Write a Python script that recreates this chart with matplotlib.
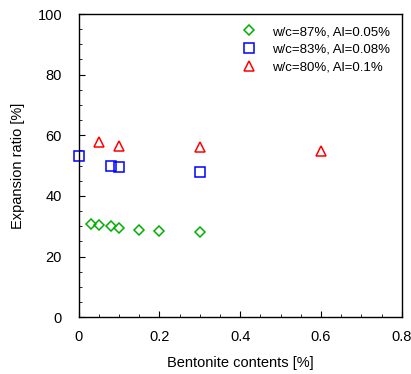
import matplotlib
matplotlib.use('Agg')
import matplotlib.pyplot as plt
from matplotlib.ticker import MultipleLocator

plt.rcParams['font.family'] = ['Liberation Sans', 'DejaVu Sans']

# series: bentonite content [%] vs expansion ratio [%]
x_87 = [0.03, 0.05, 0.08, 0.1, 0.15, 0.2, 0.3]
y_87 = [30.8, 30.5, 30.2, 29.3, 28.8, 28.4, 28.0]
x_83 = [0.0, 0.08, 0.1, 0.3]
y_83 = [53.3, 49.9, 49.5, 47.8]
x_80 = [0.05, 0.1, 0.3, 0.6]
y_80 = [57.8, 56.6, 56.0, 54.7]
labels = ['w/c=87%, Al=0.05%', 'w/c=83%, Al=0.08%', 'w/c=80%, Al=0.1%']

fig = plt.figure(figsize=(4.11, 3.74), dpi=100)
ax = fig.add_axes([78.7 / 411, 1 - 317.3 / 374, 323 / 411, 303.3 / 374])

ax.plot(x_87, y_87, 'D', markersize=5.5, mfc='none', mec='#00b000', mew=1.1,
        label=labels[0], clip_on=False)
ax.plot(x_83, y_83, 's', markersize=7, mfc='none', mec='#0000ff', mew=1.1,
        label=labels[1], clip_on=False)
ax.plot(x_80, y_80, '^', markersize=7, mfc='none', mec='#ff0000', mew=1.1,
        label=labels[2], clip_on=False)

ax.set_xlim(0, 0.8)
ax.set_ylim(0, 100)
ax.xaxis.set_major_locator(MultipleLocator(0.2))
ax.xaxis.set_minor_locator(MultipleLocator(0.05))
ax.yaxis.set_major_locator(MultipleLocator(20))
ax.yaxis.set_minor_locator(MultipleLocator(5))
ax.xaxis.set_major_formatter(plt.FuncFormatter(lambda v, p: '0' if v == 0 else f'{v:g}'))
ax.tick_params(which='both', direction='in', top=False, right=False, labelsize=10.5)
ax.tick_params(axis='x', which='major', pad=9)
ax.tick_params(axis='y', which='major', pad=12)
ax.tick_params(which='major', length=4)
ax.tick_params(which='minor', length=2.5)
for s in ax.spines.values():
    s.set_linewidth(1.0)

ax.set_xlabel('Bentonite contents [%]', fontsize=10.5, labelpad=9)
ax.set_ylabel('Expansion ratio [%]', fontsize=10.5, labelpad=9)

ax.legend(loc='upper right', frameon=False, fontsize=9.5, handletextpad=1.1,
          labelspacing=0.4, borderaxespad=0.5, borderpad=0.4, handlelength=1.2)

fig.savefig('out.png', dpi=100)
